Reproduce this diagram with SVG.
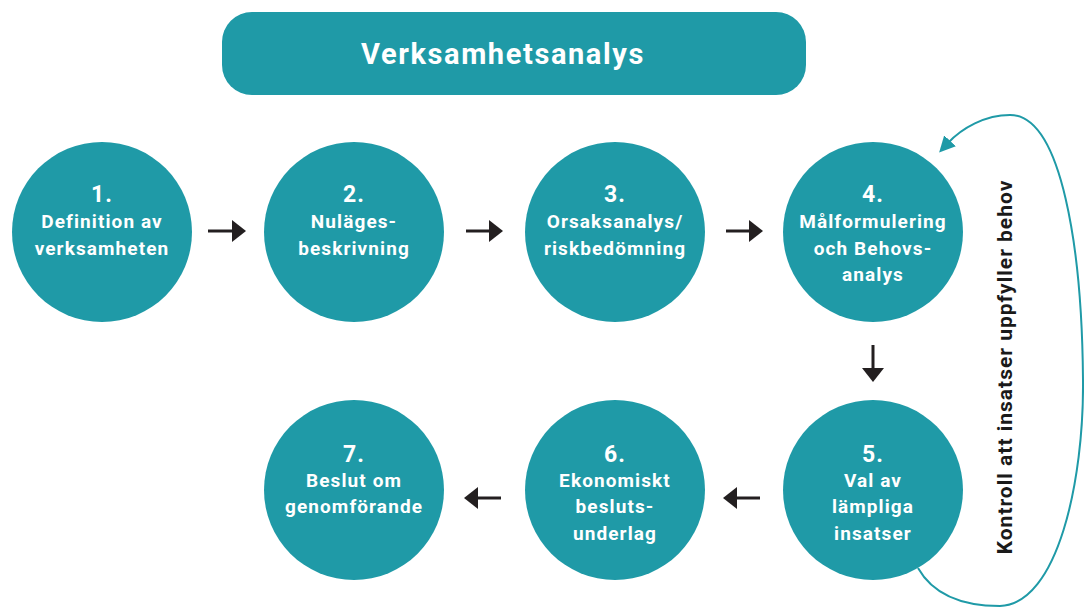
<svg xmlns="http://www.w3.org/2000/svg" width="1084" height="607" viewBox="0 0 1084 607">
<defs>
<style>
.node{fill:#1f9aa7}
.num{font-family:Roboto,"Liberation Sans",sans-serif;font-weight:700;font-size:23px;fill:#fff;text-anchor:middle;letter-spacing:1px}
.lbl{font-family:Roboto,"Liberation Sans",sans-serif;font-weight:700;font-size:19px;fill:#fff;text-anchor:middle;letter-spacing:1.1px}
.title{font-family:Roboto,"Liberation Sans",sans-serif;font-weight:700;font-size:29px;fill:#fff;text-anchor:middle;letter-spacing:1.6px}
.side{font-family:Roboto,"Liberation Sans",sans-serif;font-weight:700;font-size:21px;fill:#1a1a1a;text-anchor:middle;letter-spacing:1px}
.arr{stroke:#231f20;stroke-width:3;fill:none}
.loop{stroke:#1f9aa7;stroke-width:2;fill:none}
</style>
<marker id="ah" viewBox="0 0 14 22" refX="2" refY="11" markerWidth="14" markerHeight="22" markerUnits="userSpaceOnUse" orient="auto">
<path d="M0,0 L14,11 L0,22 Z" fill="#231f20"/>
</marker>
<marker id="ahl" viewBox="0 0 16 16" refX="3" refY="8" markerWidth="16" markerHeight="16" markerUnits="userSpaceOnUse" orient="auto">
<path d="M0,0 L16,8 L0,16 Z" fill="#1f9aa7"/>
</marker>
</defs>
<rect width="1084" height="607" fill="#fff"/>
<g id="title">
<rect x="222" y="12" width="584" height="83" rx="30" class="node"/>
<text x="503" y="64" class="title">Verksamhetsanalys</text>
</g>
<g id="n1">
<circle cx="102" cy="232" r="90" class="node"/>
<text x="102" y="202" class="num">1.</text>
<text x="102" y="228" class="lbl">Definition av</text>
<text x="102" y="255" class="lbl">verksamheten</text>
</g>
<g id="n2">
<circle cx="354" cy="232" r="90" class="node"/>
<text x="354" y="202" class="num">2.</text>
<text x="354" y="228" class="lbl">Nuläges-</text>
<text x="354" y="255" class="lbl">beskrivning</text>
</g>
<g id="n3">
<circle cx="615" cy="232" r="90" class="node"/>
<text x="615" y="202" class="num">3.</text>
<text x="615" y="228" class="lbl">Orsaksanalys/</text>
<text x="615" y="255" class="lbl">riskbedömning</text>
</g>
<g id="n4">
<circle cx="873" cy="232" r="90" class="node"/>
<text x="873" y="202" class="num">4.</text>
<text x="873" y="228" class="lbl">Målformulering</text>
<text x="873" y="255" class="lbl">och Behovs-</text>
<text x="873" y="281" class="lbl">analys</text>
</g>
<g id="n5">
<circle cx="873" cy="490" r="90" class="node"/>
<text x="873" y="462" class="num">5.</text>
<text x="873" y="487" class="lbl">Val av</text>
<text x="873" y="513" class="lbl">lämpliga</text>
<text x="873" y="540" class="lbl">insatser</text>
</g>
<g id="n6">
<circle cx="615" cy="490" r="90" class="node"/>
<text x="615" y="462" class="num">6.</text>
<text x="615" y="487" class="lbl">Ekonomiskt</text>
<text x="615" y="513" class="lbl">besluts-</text>
<text x="615" y="540" class="lbl">underlag</text>
</g>
<g id="n7">
<circle cx="354" cy="490" r="90" class="node"/>
<text x="354" y="462" class="num">7.</text>
<text x="354" y="487" class="lbl">Beslut om</text>
<text x="354" y="513" class="lbl">genomförande</text>
</g>
<g id="connectors">
<line x1="208" y1="231" x2="234" y2="231" class="arr" marker-end="url(#ah)"/>
<line x1="466" y1="231" x2="491" y2="231" class="arr" marker-end="url(#ah)"/>
<line x1="726" y1="231" x2="751" y2="231" class="arr" marker-end="url(#ah)"/>
<line x1="873" y1="345" x2="873" y2="370" class="arr" marker-end="url(#ah)"/>
<line x1="760" y1="498" x2="735" y2="498" class="arr" marker-end="url(#ah)"/>
<line x1="501" y1="498" x2="476" y2="498" class="arr" marker-end="url(#ah)"/>
<path d="M918,568 C935,598 968,606 1000,606 C1058,604 1084,480 1083,380 C1082,250 1062,115 1010,115 C985,115 962,128 948,143" class="loop" marker-end="url(#ahl)"/>
<text transform="translate(1012,367) rotate(-90)" class="side">Kontroll att insatser uppfyller behov</text>
</g>
</svg>
